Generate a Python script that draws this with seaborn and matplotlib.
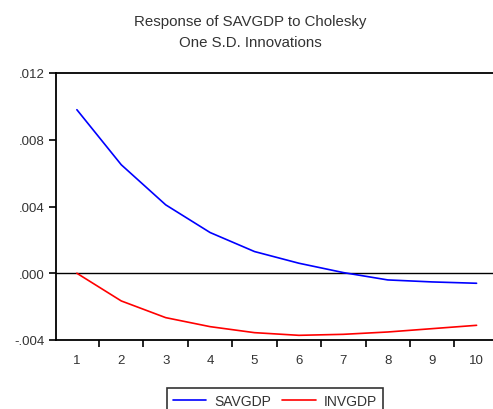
import numpy as np
import pandas as pd
import matplotlib
matplotlib.use("Agg")
import matplotlib.pyplot as plt
from matplotlib.ticker import FixedLocator, FuncFormatter
import seaborn as sns

# Impulse responses of SAVGDP over a 10-period horizon
periods = list(range(1, 11))
savgdp = [0.0098, 0.0065, 0.0041, 0.00244, 0.0013, 0.0006, 0.00004, -0.0004, -0.00052, -0.0006]
invgdp = [0.0, -0.00166, -0.00266, -0.0032, -0.00356, -0.00372, -0.00366, -0.00352, -0.00332, -0.00312]
series_names = ["SAVGDP", "INVGDP"]
y_ticks = [-0.004, 0.0, 0.004, 0.008, 0.012]

df = pd.DataFrame({
    "period": periods * 2,
    "response": savgdp + invgdp,
    "series": [series_names[0]] * len(periods) + [series_names[1]] * len(periods),
})

sns.set_style("white")
plt.rcParams["font.family"] = ["Liberation Sans", "DejaVu Sans"]

fig = plt.figure(figsize=(4.93, 4.10), dpi=100)
ax = fig.add_axes([56 / 493, 1 - 341 / 410, 1 - 56 / 493, (341 - 74) / 410])

sns.lineplot(data=df, x="period", y="response", hue="series",
             palette={"SAVGDP": "#0000FF", "INVGDP": "#FF0000"},
             linewidth=1.2, ax=ax, legend=False)

ax.axhline(0, color="black", linewidth=1.0, zorder=0)

ax.set_xlim(0.53, 10.37)
ax.set_ylim(-0.004, 0.012)

# Labels sit at each period; tick marks fall between periods
ax.xaxis.set_major_locator(FixedLocator(periods))
ax.xaxis.set_minor_locator(FixedLocator([p + 0.5 for p in periods[:-1]]))
ax.tick_params(axis="x", which="major", length=0, pad=10, labelsize=9.5, colors="#333333")
ax.tick_params(axis="x", which="minor", length=5, width=1.2, color="black", direction="out")
ax.set_yticks(y_ticks)
ax.yaxis.set_major_formatter(FuncFormatter(lambda v, _: ("-" if v < -1e-12 else "") + f"{abs(v):.3f}".lstrip("0")))
ax.tick_params(axis="y", length=5, width=1.2, color="black", direction="out", labelsize=9.5,
               labelcolor="#333333", pad=3)
ax.xaxis.set_ticks_position("bottom")
ax.yaxis.set_ticks_position("left")

for side in ["left", "bottom", "top"]:
    ax.spines[side].set_color("black")
    ax.spines[side].set_linewidth(1.3)
ax.spines["right"].set_visible(False)

ax.set_xlabel("")
ax.set_ylabel("")

fig.text(250 / 493, 1 - 22 / 410, "Response of SAVGDP to Cholesky", ha="center", va="center",
         fontsize=10.8, color="#333333")
fig.text(250 / 493, 1 - 43 / 410, "One S.D. Innovations", ha="center", va="center",
         fontsize=10.8, color="#333333")

handles = [plt.Line2D([], [], color="#0000FF", linewidth=1.2),
           plt.Line2D([], [], color="#FF0000", linewidth=1.2)]
leg = fig.legend(handles, series_names, loc="upper left",
                 bbox_to_anchor=(167 / 493, 1 - 389 / 410), bbox_transform=fig.transFigure,
                 ncol=2, fontsize=10, frameon=True, fancybox=False, handlelength=2.4,
                 handletextpad=0.6, columnspacing=0.8, borderpad=0.4, borderaxespad=0)
leg.get_frame().set_edgecolor("black")
leg.get_frame().set_linewidth(1.2)
for t in leg.get_texts():
    t.set_color("#333333")

fig.savefig("out.png", dpi=100)
